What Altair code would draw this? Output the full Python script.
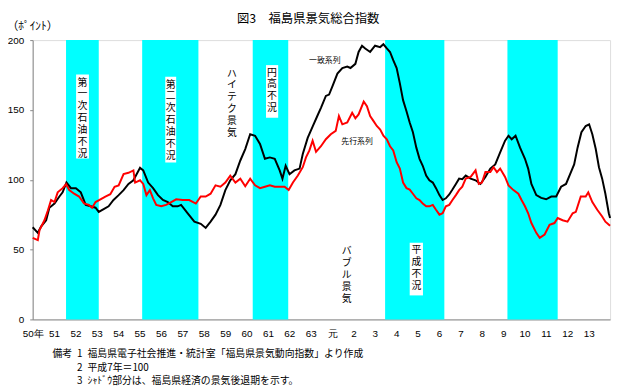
import json
import altair as alt
import pandas as pd

# ---- data ----
x_labels = ["50年", "51", "52", "53", "54", "55", "56", "57", "58", "59", "60", "61", "62", "63",
            "元", "2", "3", "4", "5", "6", "7", "8", "9", "10", "11", "12", "13"]
x_years = list(range(1975, 2002))

# 一致系列 (black)
coin_t = [1975.00, 1975.24, 1975.40, 1975.63, 1975.78, 1976.02, 1976.25, 1976.40, 1976.58, 1976.79,
          1977.02, 1977.25, 1977.48, 1977.71, 1977.94, 1978.09, 1978.32, 1978.55, 1978.78, 1979.02,
          1979.25, 1979.48, 1979.71, 1979.86, 1980.02, 1980.17, 1980.40, 1980.63, 1980.86, 1981.09,
          1981.32, 1981.55, 1981.78, 1981.94, 1982.25, 1982.56, 1982.86, 1983.09, 1983.32, 1983.55,
          1983.78, 1984.01, 1984.24, 1984.48, 1984.71, 1984.94, 1985.17, 1985.40, 1985.63, 1985.86,
          1986.09, 1986.32, 1986.55, 1986.68, 1986.83, 1987.01, 1987.24, 1987.48, 1987.63, 1987.86,
          1988.09, 1988.32, 1988.48, 1988.71, 1988.86, 1989.02, 1989.25, 1989.48, 1989.71, 1989.86,
          1990.09, 1990.24, 1990.40, 1990.55, 1990.78, 1991.01, 1991.25, 1991.40, 1991.56, 1991.71,
          1991.86, 1992.02, 1992.17, 1992.32, 1992.48, 1992.63, 1992.78, 1992.94, 1993.09, 1993.24,
          1993.40, 1993.55, 1993.71, 1993.86, 1994.02, 1994.17, 1994.32, 1994.48, 1994.63, 1994.79,
          1994.94, 1995.09, 1995.25, 1995.48, 1995.71, 1995.94, 1996.17, 1996.40, 1996.63, 1996.86,
          1997.09, 1997.25, 1997.40, 1997.58, 1997.79, 1998.02, 1998.17, 1998.32, 1998.55, 1998.78,
          1999.01, 1999.25, 1999.48, 1999.71, 1999.94, 2000.17, 2000.32, 2000.48, 2000.66, 2000.86,
          2001.02, 2001.17, 2001.33, 2001.48, 2001.63, 2001.78, 2001.94, 2002.00]
coin_v = [66, 62, 66.6, 71, 80, 83, 88, 91, 98, 94,
          94, 91, 82, 81, 80, 77, 79, 81, 85.5, 89,
          92.6, 97, 99.6, 104, 108.6, 106.7, 98, 94, 89, 85.5,
          84, 81, 81, 82, 76, 70, 68.5, 65.5, 70, 75,
          82, 92.6, 99.6, 104, 113.8, 122, 132.6, 131.5, 125.6, 115,
          116, 115, 106.7, 100.8, 110, 104, 106.7, 108, 118.5, 130,
          138, 146, 151.5, 160, 161, 167, 176, 180, 181, 180,
          183, 191.5, 196, 194, 191.5, 196, 195, 197, 194, 191.5,
          185.6, 180, 169, 157, 149, 141, 134, 123, 115, 110,
          103, 99.6, 98, 94, 89, 85.5, 86.7, 89.5, 93, 97,
          100.8, 100.4, 103, 100.8, 99.6, 97, 102, 108, 111, 119.6,
          128, 131.5, 129, 131.5, 123, 115, 108, 97, 89, 87,
          86, 88, 88, 95, 97, 105.5, 111, 123, 134, 138.5,
          139.7, 132.6, 122, 109, 100.8, 90, 76, 72.6]

# 先行系列 (red)
lead_t = [1975.00, 1975.24, 1975.32, 1975.55, 1975.71, 1975.86, 1976.02, 1976.17, 1976.40, 1976.56,
          1976.71, 1976.94, 1977.17, 1977.40, 1977.63, 1977.78, 1977.94, 1978.17, 1978.40, 1978.63,
          1978.83, 1979.02, 1979.25, 1979.48, 1979.71, 1979.79, 1980.02, 1980.17, 1980.32, 1980.48,
          1980.63, 1980.78, 1981.01, 1981.24, 1981.48, 1981.71, 1982.02, 1982.32, 1982.63, 1982.86,
          1983.09, 1983.32, 1983.55, 1983.78, 1984.01, 1984.24, 1984.48, 1984.71, 1984.94, 1985.17,
          1985.40, 1985.63, 1985.86, 1986.09, 1986.32, 1986.55, 1986.78, 1986.97, 1987.17, 1987.40,
          1987.63, 1987.78, 1987.94, 1988.09, 1988.25, 1988.48, 1988.71, 1988.94, 1989.17, 1989.32,
          1989.48, 1989.71, 1989.94, 1990.09, 1990.24, 1990.48, 1990.63, 1990.78, 1990.94, 1991.09,
          1991.25, 1991.40, 1991.56, 1991.71, 1991.86, 1992.02, 1992.17, 1992.32, 1992.48, 1992.63,
          1992.78, 1992.94, 1993.09, 1993.24, 1993.40, 1993.55, 1993.71, 1993.86, 1994.02, 1994.17,
          1994.32, 1994.48, 1994.63, 1994.79, 1994.94, 1995.09, 1995.25, 1995.48, 1995.71, 1995.86,
          1996.01, 1996.17, 1996.40, 1996.55, 1996.71, 1996.86, 1997.09, 1997.25, 1997.48, 1997.71,
          1997.86, 1998.02, 1998.17, 1998.32, 1998.55, 1998.71, 1998.94, 1999.17, 1999.40, 1999.55,
          1999.78, 2000.01, 2000.25, 2000.40, 2000.63, 2000.86, 2000.98, 2001.17, 2001.40, 2001.63,
          2001.78, 2002.00]
lead_v = [58.4, 56.8, 64, 71, 78, 85.5, 84, 91, 94, 96.8,
          92.6, 90, 88, 83, 82, 80, 84, 86, 88, 89.7,
          95, 96, 104, 105, 106.7, 98, 99.6, 97, 89, 92.6,
          86.7, 82, 81, 82, 84, 86, 85.5, 85.5, 83, 88,
          88, 90, 96, 95, 98, 103, 98, 100.8, 95.4, 100.8,
          96, 94, 95, 96, 95, 95, 95, 92.6, 98, 103,
          109, 116, 121, 128, 120, 124, 129, 132.6, 135, 145.6,
          139.7, 141, 148, 144, 146.8, 156, 152.6, 145.6, 142, 138.5,
          136, 131.5, 129, 124, 121, 112.6, 108, 98, 94, 93,
          90, 86.7, 85.5, 83, 81, 81, 82, 78.5, 75, 76,
          81, 82, 85.5, 89, 92.6, 95, 100.8, 102, 106.7, 97,
          98, 105.5, 105.5, 109, 105.5, 108, 102, 96, 92.6, 90,
          85.5, 81, 76, 69, 62, 58.4, 60.8, 67.8, 69, 72.6,
          71, 70, 76, 77, 88, 88, 91, 84, 78.5, 73.7,
          70, 67]

# recession (shaded) periods
band_start = [1976.56, 1980.12, 1985.29, 1991.48, 1997.20]
band_end = [1978.09, 1982.75, 1986.95, 1994.25, 1999.55]

# vertical annotations (x centre, y of the top of the text block)
ann_text = ["第一次石油不況", "第二次石油不況", "ハイテク景気", "円高不況", "バブル景気", "平成不況"]
ann_x = [1977.33, 1981.45, 1984.32, 1986.19, 1989.68, 1992.94]
ann_y = [173.1, 171.7, 179.5, 180.2, 52.3, 53.0]
# white boxes behind some annotations
box_x1 = [1977.03, 1981.20, 1985.91, 1992.63]
box_x2 = [1977.63, 1981.71, 1986.48, 1993.25]
box_y1 = [115.2, 112.4, 144.4, 17.2]
box_y2 = [175.3, 173.8, 182.1, 54.9]

# series labels
ser_text = ["一致系列", "先行系列"]
ser_x = [1988.66, 1990.17]
ser_y = [185.2, 127.2]

FONT = "Noto Sans CJK JP"

coin_df = pd.DataFrame({"t": coin_t, "v": coin_v})
lead_df = pd.DataFrame({"t": lead_t, "v": lead_v})
band_df = pd.DataFrame({"s": band_start, "e": band_end})
ann_df = pd.DataFrame({"x": ann_x, "y": ann_y, "label": ["\n".join(list(s)) for s in ann_text]})
box_df = pd.DataFrame({"x1": box_x1, "x2": box_x2, "y1": box_y1, "y2": box_y2})
ser_df = pd.DataFrame({"x": ser_x, "y": ser_y, "label": ser_text})

xscale = alt.Scale(domain=[1975, 2002], nice=False, zero=False)
yscale = alt.Scale(domain=[0, 200], nice=False)

label_expr = json.dumps(x_labels, ensure_ascii=False) + "[round(datum.value) - 1975]"

xaxis = alt.Axis(values=x_years, labelExpr=label_expr, tickSize=0, labelPadding=9,
                 labelFontSize=10, title=None, grid=False, labelFlush=False, labelOverlap=False)
yaxis = alt.Axis(values=[0, 50, 100, 150, 200], tickSize=3, labelPadding=6,
                 labelFontSize=10, title=None, grid=False)


def X(field):
    return alt.X(field, scale=xscale, axis=xaxis)


def Y(field):
    return alt.Y(field, scale=yscale, axis=yaxis)


bands = alt.Chart(band_df).mark_rect(color="#00FFFF").encode(
    x=X("s:Q"), x2="e:Q",
    y=alt.Y(datum=0, scale=yscale, axis=yaxis), y2=alt.Y2(datum=200),
)

boxes = alt.Chart(box_df).mark_rect(color="white").encode(
    x=X("x1:Q"), x2="x2:Q", y=Y("y1:Q"), y2="y2:Q",
)

coin_line = alt.Chart(coin_df).mark_line(color="black", strokeWidth=2).encode(
    x=X("t:Q"), y=Y("v:Q")
)
lead_line = alt.Chart(lead_df).mark_line(color="#FF0000", strokeWidth=2).encode(
    x=X("t:Q"), y=Y("v:Q")
)

ann = alt.Chart(ann_df).mark_text(lineBreak="\n", lineHeight=12, fontSize=10, font=FONT,
                                  color="black", align="center", baseline="top").encode(
    x=X("x:Q"), y=Y("y:Q"), text="label:N"
)

ser = alt.Chart(ser_df).mark_text(fontSize=8, font=FONT, color="black",
                                  align="center", baseline="middle").encode(
    x=X("x:Q"), y=Y("y:Q"), text="label:N"
)

one = pd.DataFrame({"k": [0]})


def free_text(txt, px, py, size, align="left"):
    return alt.Chart(one).mark_text(text=txt, fontSize=size, font=FONT, color="black",
                                    align=align, baseline="middle").encode(
        x=alt.value(px), y=alt.value(py))


title = free_text("図3　福島県景気総合指数", 207, -21, 12.5)
unit = free_text("（ﾎﾟｲﾝﾄ）", -26, -13, 11.5)
note1 = free_text("備考\u20021\u2002福島県電子社会推進・統計室「福島県景気動向指数」より作成", 20, 318, 10)
note2 = free_text("2\u2002平成7年＝100", 45, 332, 10)
note3 = free_text("3\u2002ｼｬﾄﾞｳ部分は、福島県経済の景気後退期を示す。", 45, 345, 10)

chart = alt.layer(
    bands, boxes, coin_line, lead_line, ann, ser, title, unit, note1, note2, note3
).properties(
    width=585, height=283,
    autosize=alt.AutoSizeParams(type="none"),
    padding={"left": 25, "top": 30, "right": 6, "bottom": 70},
).configure_view(
    stroke="black", strokeWidth=1
).configure_axis(
    domainColor="black", tickColor="black", labelColor="black", labelFont=FONT, domainWidth=1
).configure_axisX(
    labelOverlap=False
).configure(background="white")

chart.save("out.html", embed_options={"renderer": "svg", "actions": False})
